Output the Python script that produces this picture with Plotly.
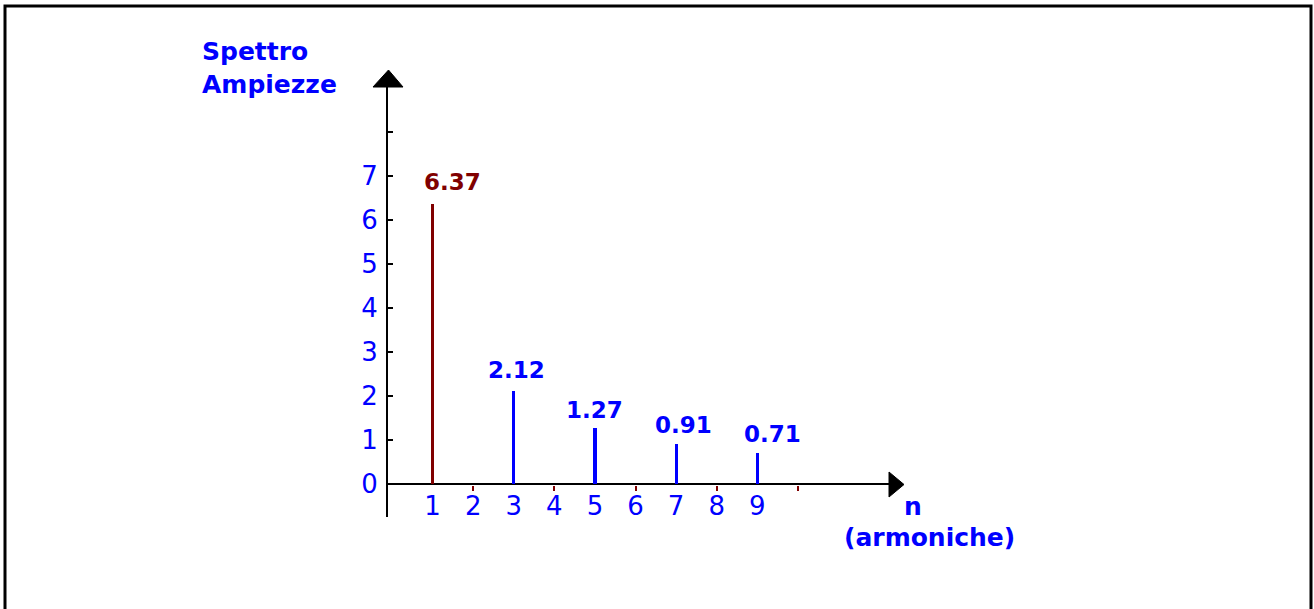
import plotly.graph_objects as go

# ---- data ----
harmonics = [1, 3, 5, 7, 9]
amplitudes = [6.37, 2.12, 1.27, 0.91, 0.71]
amp_labels = ["6.37", "2.12", "1.27", "0.91", "0.71"]
x_tick_labels = ["1", "2", "3", "4", "5", "6", "7", "8", "9"]
x_tick_vals = [1, 2, 3, 4, 5, 6, 7, 8, 9]
x_minor_ticks = [2, 4, 6, 8, 10]
y_tick_vals = [0, 1, 2, 3, 4, 5, 6, 7, 8]
y_tick_labels = ["0", "1", "2", "3", "4", "5", "6", "7", ""]

# ---- style ----
BLUE = "#0000FF"
DARK_RED = "#800000"
FONT = "DejaVu Sans"
bar_colors = [DARK_RED] + [BLUE] * (len(harmonics) - 1)
label_dx = [20, 3, 0, 7, 15]   # pixel nudges of value labels
label_dy = [7, 6, 3, 4, 4]

W, H = 1314, 609
L, R, T, B = 388, 1314 - 890, 87, 609 - 517
PW, PH = W - L - R, H - T - B

def px2x(px):
    return (px - L) / PW

def py2y(py):
    return (H - B - py) / PH

fig = go.Figure()
fig.add_trace(go.Bar(
    x=harmonics, y=amplitudes, width=0.078,
    marker=dict(color=bar_colors, line=dict(width=0)),
    showlegend=False, hoverinfo="x+y",
))
# invisible trace to bind the overlay axis carrying the red minor ticks
fig.add_trace(go.Scatter(x=[None], y=[None], xaxis="x2", yaxis="y",
                         showlegend=False, hoverinfo="skip"))

xr = [-0.1, 12.27]
fig.update_layout(
    width=W, height=H,
    margin=dict(l=L, r=R, t=T, b=B, pad=0),
    paper_bgcolor="white", plot_bgcolor="white",
    bargap=0,
    xaxis=dict(
        range=xr, anchor="free", position=py2y(484.5),
        tickmode="array", tickvals=x_tick_vals, ticktext=x_tick_labels,
        ticks="", showline=False, showgrid=False, zeroline=False,
        tickfont=dict(family=FONT, size=26, color=BLUE),
        ticklabelstandoff=3,
    ),
    xaxis2=dict(
        range=xr, overlaying="x", anchor="free", position=py2y(484.5),
        tickmode="array", tickvals=x_minor_ticks,
        ticks="outside", ticklen=5, tickwidth=2, tickcolor=DARK_RED,
        showticklabels=False, showline=False, showgrid=False, zeroline=False,
    ),
    yaxis=dict(
        range=[-0.75, 9.02],
        tickmode="array", tickvals=y_tick_vals, ticktext=y_tick_labels,
        ticks="inside", ticklen=5, tickwidth=1.5, tickcolor="black",
        showline=True, linecolor="black", linewidth=2,
        showgrid=False, zeroline=True, zerolinecolor="black", zerolinewidth=2,
        tickfont=dict(family=FONT, size=26, color=BLUE),
        ticklabelstandoff=3,
    ),
)

# value labels
for i, (xv, yv, txt) in enumerate(zip(harmonics, amplitudes, amp_labels)):
    fig.add_annotation(
        x=xv, y=yv, xref="x", yref="y", text=txt, showarrow=False,
        xanchor="center", yanchor="bottom",
        xshift=label_dx[i], yshift=label_dy[i],
        font=dict(family=FONT, size=23, color=bar_colors[i], weight="bold"),
    )

# axis titles
fig.add_annotation(
    x=px2x(200), y=py2y(35), xref="paper", yref="paper",
    text="Spettro<br>Ampiezze", showarrow=False, align="left",
    xanchor="left", yanchor="top",
    font=dict(family=FONT, size=25, color=BLUE, weight="bold"),
)
fig.add_annotation(
    x=px2x(913), y=py2y(506), xref="paper", yref="paper",
    text="n", showarrow=False, xanchor="center", yanchor="middle",
    font=dict(family=FONT, size=25, color=BLUE, weight="bold"),
)
fig.add_annotation(
    x=px2x(929), y=py2y(537), xref="paper", yref="paper",
    text="(armoniche)", showarrow=False, xanchor="center", yanchor="middle",
    font=dict(family=FONT, size=25, color=BLUE, weight="bold"),
)

# arrow heads
fig.add_shape(type="path", xref="paper", yref="paper",
              path=f"M {px2x(373)} {py2y(87)} L {px2x(388.5)} {py2y(70)} L {px2x(403)} {py2y(87)} Z",
              fillcolor="black", line=dict(color="black", width=1))
fig.add_shape(type="path", xref="paper", yref="paper",
              path=f"M {px2x(889)} {py2y(472)} L {px2x(904)} {py2y(484.5)} L {px2x(889)} {py2y(497)} Z",
              fillcolor="black", line=dict(color="black", width=1))

# outer frame
fig.add_shape(type="path", xref="paper", yref="paper",
              path=(f"M {px2x(5)} {py2y(620)} L {px2x(5)} {py2y(6)} "
                    f"L {px2x(1311)} {py2y(6)} L {px2x(1311)} {py2y(620)}"),
              line=dict(color="black", width=3))

fig.write_html("out.html", config={"displayModeBar": False},
               post_script="document.body.style.margin='0';document.body.style.overflow='hidden';")
